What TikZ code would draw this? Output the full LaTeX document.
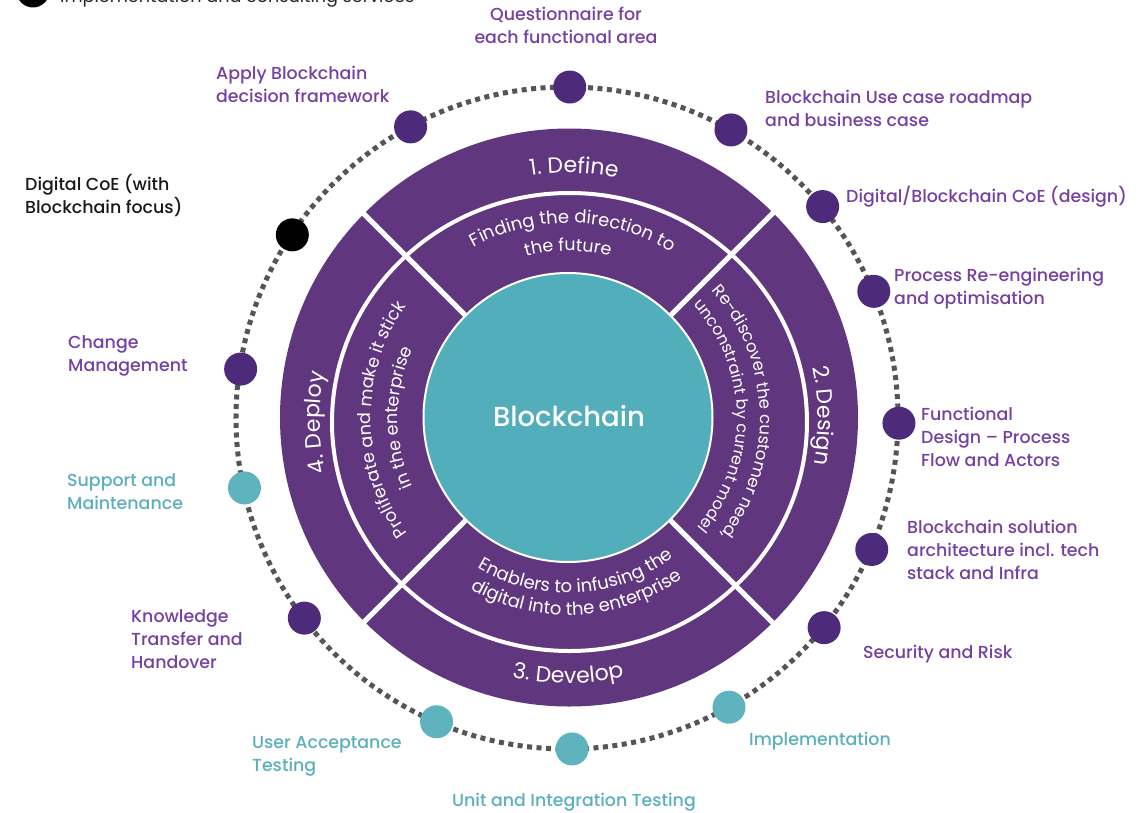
\documentclass[tikz,border=0pt]{standalone}
\usepackage{fontspec}
\setmainfont{Poppins}
\IfFontExistsTF{Poppins Medium}{\newfontfamily\medfont{Poppins Medium}}{\newfontfamily\medfont{Poppins}[FakeBold=0.6]}
\usetikzlibrary{decorations.text}
\definecolor{band}{HTML}{60377F}
\definecolor{dotpurple}{HTML}{4E2B7A}
\definecolor{labpurple}{HTML}{7640A3}
\definecolor{tealc}{HTML}{52AEBB}
\definecolor{tealdot}{HTML}{5EB3BE}
\definecolor{tealtext}{HTML}{5BB0BC}
\definecolor{ringgray}{HTML}{555555}
\newcommand\ringtext[5]{%
  \path[decorate,decoration={text along path,text align=center,
     text={|\fontsize{#4}{#4}\selectfont\color{white}|#5}}]
     (#1:#3) arc[start angle=#1,end angle=#2,radius=#3];}
\newcommand\labl[1]{\begin{tabular}[t]{@{}l@{}}#1\end{tabular}}
\newcommand\labcc[1]{\begin{tabular}[t]{@{}c@{}}#1\end{tabular}}
\tikzset{
  lbl/.style={font=\medfont\fontsize{17.4}{23}\selectfont, text=labpurple, inner sep=0pt, anchor=base west},
  tlbl/.style={lbl, text=tealtext},
  klbl/.style={lbl, text=black!90},
  pdot/.style={circle, fill=dotpurple, minimum size=33pt, inner sep=0pt},
  tdot/.style={circle, fill=tealdot, minimum size=33pt, inner sep=0pt},
  bdot/.style={circle, fill=black, minimum size=33pt, inner sep=0pt},
}
\begin{document}
\begin{tikzpicture}[x=1pt,y=1pt]
\useasboundingbox (-568,-394) rectangle (579,418);
\fill[white] (-568,-394) rectangle (579,418);
\clip (-568,-394) rectangle (579,418);
% legend (cut off at top)
\node[bdot] (leg) at (-535,427) {};
\node[font=\fontsize{17.6}{23}\selectfont, text=black!85, inner sep=0pt, anchor=base west] (legt) at (-508,415) {Implementation and consulting services};
% dotted ring
\draw[ringgray, line width=5pt, dash pattern=on 5pt off 4.5pt] (-1,0) circle[radius=331];
% main disk
\fill[band] (1,0.5) circle[radius=289];
\draw[white, line width=4pt] (1.5,-4) ellipse[x radius=237.5, y radius=229];
\foreach \a in {45,135,225,315}
  \draw[white, line width=5pt] (\a:140) -- (\a:295);
\fill[tealc, draw=white, line width=2pt] (0,0.5) circle[radius=144.5];
\node[font=\medfont\fontsize{27.5}{30}\selectfont, text=white] (core) at (1,2) {Blockchain};
% ring texts
\ringtext{148.6}{28.6}{245}{22}{1. Define}
\ringtext{148.5}{28.5}{195}{18}{Finding the direction to}
\ringtext{150}{30}{167}{17.5}{the future}
\ringtext{60.5}{-59.5}{250}{22}{2. Design}
\ringtext{72}{-68}{192}{16.6}{Re-discover the customer need,}
\ringtext{71}{-69}{169}{16}{unconstraint by current model}
\ringtext{-150}{-30}{265}{22}{3. Develop}
\ringtext{-157}{-17}{175}{18}{Enablers to infusing the}
\ringtext{-157}{-17}{197}{18}{digital into the enterprise}
\ringtext{241}{121}{248}{22}{4. Deploy}
\ringtext{250.5}{110.5}{197}{17.5}{Proliferate and make it stick}
\ringtext{250}{110}{170}{17.5}{in the enterprise}
% dots
\node[pdot] (dq) at (89.7:331) {};
\node[pdot] (dr) at (60.5:331) {};
\node[pdot] (dc) at (39.7:331) {};
\node[pdot] (dp) at (22.5:331) {};
\node[pdot] (df) at (-0.9:331) {};
\node[pdot] (ds) at (-23.4:331) {};
\node[pdot] (dsr) at (-39.3:331) {};
\node[tdot] (di) at (-60.9:331) {};
\node[tdot] (du) at (-89.3:331) {};
\node[tdot] (dua) at (246.6:331) {};
\node[pdot] (dk) at (217.2:331) {};
\node[tdot] (dsm) at (192.2:331) {};
\node[pdot] (dcm) at (171.5:331) {};
\node[bdot] (ddc) at (146.4:331) {};
\node[pdot] (da) at (118.4:331) {};
% labels
\node[lbl, anchor=base] (lq) at (-2,397) {\labcc{Questionnaire for\\each functional area}};
\node[lbl] (la) at (-352,338) {\labl{Apply Blockchain\\decision framework}};
\node[lbl] (lr) at (197,315) {\labl{Blockchain Use case roadmap\\and business case}};
\node[lbl] (lc) at (278,216) {Digital/Blockchain CoE (design)};
\node[lbl] (lp) at (326,137) {\labl{Process Re-engineering\\and optimisation}};
\node[lbl] (lf) at (353,-2) {\labl{Functional\\Design – Process\\Flow and Actors}};
\node[lbl] (ls) at (339,-115) {\labl{Blockchain solution\\architecture incl. tech\\stack and Infra}};
\node[lbl] (lsr) at (295,-240) {Security and Risk};
\node[tlbl] (li) at (181,-327) {Implementation};
\node[tlbl, anchor=base] (lu) at (6,-388) {Unit and Integration Testing};
\node[tlbl] (lua) at (-316,-330) {\labl{User Acceptance\\Testing}};
\node[lbl] (lk) at (-437,-204) {\labl{Knowledge\\Transfer and\\Handover}};
\node[tlbl] (lsm) at (-501,-68) {\labl{Support and\\Maintenance}};
\node[lbl] (lcm) at (-500,70) {\labl{Change\\Management}};
\node[klbl] (ldc) at (-543,228) {\labl{Digital CoE (with\\Blockchain focus)}};
\end{tikzpicture}
\end{document}
